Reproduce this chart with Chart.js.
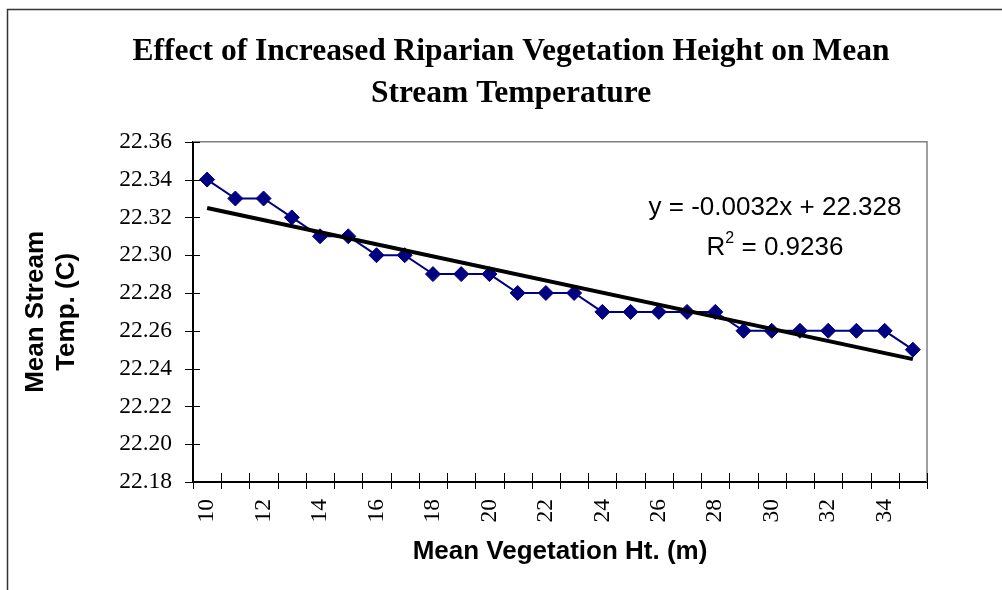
<!DOCTYPE html>
<html>
<head>
<meta charset="utf-8">
<title>Effect of Increased Riparian Vegetation Height on Mean Stream Temperature</title>
<script src="https://cdn.jsdelivr.net/npm/chart.js@4/dist/chart.umd.min.js"></script>
<style>
  html, body { margin: 0; padding: 0; background: #fff; }
  #wrap { position: relative; width: 1002px; height: 590px; overflow: hidden; }
</style>
</head>
<body>
<div id="wrap"><canvas id="chart" width="1002" height="590"></canvas></div>
<script>
"use strict";

// mean vegetation height (m)
var heights = [10, 11, 12, 13, 14, 15, 16, 17, 18, 19, 20, 21, 22, 23, 24, 25, 26, 27, 28, 29, 30, 31, 32, 33, 34, 35];
// mean stream temperature (C)
var temps = [22.34, 22.33, 22.33, 22.32, 22.31, 22.31, 22.30, 22.30, 22.29, 22.29, 22.29, 22.28, 22.28,
             22.28, 22.27, 22.27, 22.27, 22.27, 22.27, 22.26, 22.26, 22.26, 22.26, 22.26, 22.26, 22.25];
// linear trendline end points
var trendX = [10, 35];
var trendY = [22.325, 22.245];
var yTicks = [22.18, 22.20, 22.22, 22.24, 22.26, 22.28, 22.30, 22.32, 22.34, 22.36];

var equation = 'y = -0.0032x + 22.328';
var rSquared = '0.9236';

var SERIF = '"Liberation Serif", "Times New Roman", serif';
var SANS = '"Liberation Sans", Arial, sans-serif';

// outer frame, plot frame, crossing tick marks and the trendline label
var decorations = {
    id: 'decorations',
    beforeDraw: function (chart) {
        var ctx = chart.ctx;
        ctx.save();
        ctx.fillStyle = '#fff';
        ctx.fillRect(0, 0, chart.width, chart.height);
        ctx.strokeStyle = '#333';
        ctx.lineWidth = 1.5;
        ctx.strokeRect(7.5, 9.5, 1200, 800);
        ctx.restore();
    },
    beforeDatasetsDraw: function (chart) {
        var ctx = chart.ctx;
        var a = chart.chartArea;
        ctx.save();
        ctx.strokeStyle = '#808080';
        ctx.lineWidth = 1.5;
        ctx.beginPath();
        ctx.moveTo(a.left, a.top);
        ctx.lineTo(a.right, a.top);
        ctx.lineTo(a.right, a.bottom);
        ctx.stroke();

        ctx.strokeStyle = '#000';
        ctx.lineWidth = 1;
        var xs = chart.scales.x;
        ctx.beginPath();
        for (var i = 0; i <= heights.length; i++) {
            var px = Math.round(xs.getPixelForValue(i - 0.5)) + 0.5;
            ctx.moveTo(px, a.bottom - 9);
            ctx.lineTo(px, a.bottom + 7);
        }
        var ys = chart.scales.y;
        yTicks.forEach(function (v) {
            var py = Math.round(ys.getPixelForValue(v)) + 0.5;
            ctx.moveTo(a.left - 8, py);
            ctx.lineTo(a.left + 7, py);
        });
        ctx.stroke();
        ctx.restore();
    },
    afterDraw: function (chart) {
        var ctx = chart.ctx;
        ctx.save();
        ctx.fillStyle = '#000';
        ctx.textBaseline = 'alphabetic';
        ctx.font = '26px ' + SANS;
        ctx.textAlign = 'center';
        ctx.fillText(equation, 775, 215);

        // R² = ...
        var head = 'R';
        var tail = ' = ' + rSquared;
        ctx.font = '26px ' + SANS;
        var wHead = ctx.measureText(head).width;
        var wTail = ctx.measureText(tail).width;
        ctx.font = '16px ' + SANS;
        var wSup = ctx.measureText('2').width;
        var x0 = 775 - (wHead + wSup + wTail) / 2;
        ctx.textAlign = 'left';
        ctx.font = '26px ' + SANS;
        ctx.fillText(head, x0, 255);
        ctx.font = '16px ' + SANS;
        ctx.fillText('2', x0 + wHead, 243);
        ctx.font = '26px ' + SANS;
        ctx.fillText(tail, x0 + wHead + wSup, 255);
        ctx.restore();
    }
};

new Chart(document.getElementById('chart'), {
    type: 'line',
    data: {
        labels: heights,
        datasets: [{
            label: 'Mean Stream Temp.',
            data: temps,
            borderColor: '#000080',
            backgroundColor: '#000080',
            borderWidth: 2,
            pointStyle: 'rectRot',
            pointRadius: 7.5,
            pointBorderWidth: 1,
            tension: 0,
            order: 2
        }, {
            label: 'Linear trend',
            data: trendX.map(function (x, i) { return {x: x, y: trendY[i]}; }),
            borderColor: '#000',
            borderWidth: 4,
            pointRadius: 0,
            tension: 0,
            order: 1
        }]
    },
    options: {
        responsive: false,
        animation: false,
        layout: {padding: {left: 20, right: 0, top: 0, bottom: 10}},
        plugins: {
            legend: {display: false},
            tooltip: {enabled: false},
            title: {
                display: true,
                text: ['Effect of Increased Riparian Vegetation Height on Mean', 'Stream Temperature'],
                color: '#000',
                font: {family: SERIF, size: 31.5, weight: 'bold', lineHeight: 1.33},
                padding: {top: 31, bottom: 27}
            }
        },
        scales: {
            x: {
                type: 'category',
                offset: true,
                grid: {display: true, drawOnChartArea: false, offset: true, tickLength: 8, tickColor: 'transparent'},
                border: {display: true, color: '#000', width: 2},
                ticks: {
                    autoSkip: false,
                    minRotation: 90,
                    maxRotation: 90,
                    padding: 9,
                    color: '#000',
                    font: {family: SERIF, size: 23.5},
                    callback: function (value, index) {
                        return index % 2 === 0 ? this.getLabelForValue(value) : '';
                    }
                },
                title: {
                    display: true,
                    text: 'Mean Vegetation Ht. (m)',
                    color: '#000',
                    font: {family: SANS, size: 26, weight: 'bold', lineHeight: 1.2},
                    padding: {top: 0, bottom: 13}
                },
                afterFit: function (scale) { scale.height = 98; }
            },
            y: {
                type: 'linear',
                min: 22.18,
                max: 22.36,
                grid: {display: true, drawOnChartArea: false, tickLength: 8, tickColor: 'transparent'},
                border: {display: true, color: '#000', width: 2},
                afterBuildTicks: function (scale) {
                    scale.ticks = yTicks.map(function (v) { return {value: v}; });
                },
                ticks: {
                    padding: 13,
                    color: '#000',
                    font: {family: SERIF, size: 23.5},
                    callback: function (value) { return value.toFixed(2); }
                },
                title: {
                    display: true,
                    text: ['Mean Stream', 'Temp. (C)'],
                    color: '#000',
                    font: {family: SANS, size: 26, weight: 'bold', lineHeight: 1.2},
                    padding: {top: 0, bottom: 0}
                },
                afterFit: function (scale) { scale.width = 173; }
            },
            y2: {
                position: 'right',
                display: true,
                grid: {display: false},
                border: {display: false},
                ticks: {display: false},
                afterFit: function (scale) { scale.width = 75; }
            }
        }
    },
    plugins: [decorations]
});
</script>
</body>
</html>
